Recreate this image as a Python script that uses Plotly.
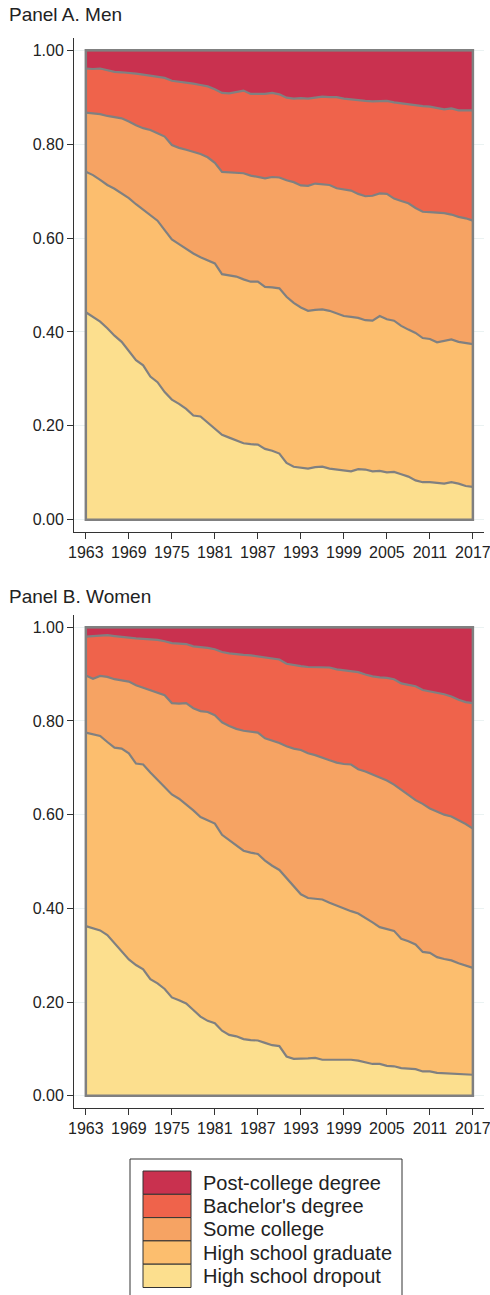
import plotly.graph_objects as go

# share of workers at or below each education level (cumulative), 1963-2017
years = list(range(1963, 2018))
categories = ["High school dropout", "High school graduate", "Some college",
              "Bachelor's degree", "Post-college degree"]

men_dropout = [.442, .432, .422, .408, .392, .379, .360, .340, .329, .305, .293, .272, .256, .247,
               .236, .222, .220, .207, .195, .181, .175, .169, .163, .161, .160, .151, .147, .141,
               .121, .113, .111, .109, .112, .113, .109, .107, .105, .103, .108, .107, .103, .104,
               .101, .102, .097, .092, .084, .080, .080, .078, .077, .080, .077, .072, .070]
men_hsgrad = [.741, .734, .724, .713, .705, .695, .685, .672, .660, .648, .637, .617, .597, .587,
              .576, .567, .559, .553, .546, .523, .521, .518, .512, .507, .507, .496, .495, .493,
              .475, .462, .452, .445, .447, .448, .445, .440, .434, .432, .430, .425, .424, .434,
              .427, .424, .413, .405, .398, .387, .385, .378, .381, .384, .379, .376, .374]
men_somecol = [.867, .865, .864, .860, .857, .855, .848, .840, .834, .830, .823, .816, .798, .792,
               .788, .783, .779, .772, .760, .741, .740, .740, .738, .733, .730, .727, .730, .729,
               .723, .719, .712, .711, .716, .715, .713, .706, .703, .701, .694, .689, .690, .695,
               .694, .684, .679, .674, .664, .656, .655, .654, .653, .650, .645, .642, .637]
men_bach = [.961, .960, .961, .957, .954, .953, .952, .950, .948, .946, .944, .941, .935, .933,
            .932, .929, .926, .923, .917, .909, .908, .911, .914, .907, .907, .907, .909, .906,
            .899, .897, .898, .897, .899, .901, .900, .900, .897, .895, .894, .892, .891, .891,
            .892, .889, .887, .884, .882, .881, .880, .877, .874, .876, .872, .872, .872]

women_dropout = [.362, .357, .353, .343, .326, .310, .291, .279, .270, .249, .240, .228, .210, .204,
                 .197, .183, .169, .160, .155, .139, .130, .127, .121, .119, .118, .113, .108, .106,
                 .084, .079, .079, .080, .081, .077, .077, .077, .077, .077, .075, .071, .068, .068,
                 .064, .063, .059, .058, .057, .052, .052, .049, .048, .048, .047, .045, .045]
women_hsgrad = [.775, .772, .768, .755, .743, .741, .731, .709, .707, .690, .675, .659, .643, .634,
                .622, .609, .595, .588, .581, .557, .545, .533, .523, .519, .516, .502, .491, .482,
                .465, .446, .430, .422, .420, .419, .412, .406, .399, .394, .389, .380, .370, .360,
                .356, .352, .335, .330, .323, .307, .305, .296, .292, .289, .283, .278, .273]
women_somecol = [.897, .890, .896, .894, .889, .887, .884, .876, .871, .866, .860, .855, .838, .837,
                 .838, .827, .821, .819, .812, .797, .789, .783, .779, .777, .775, .763, .758, .753,
                 .746, .741, .738, .731, .727, .721, .716, .711, .708, .707, .697, .692, .686, .679,
                 .673, .664, .652, .642, .631, .623, .613, .606, .600, .596, .588, .580, .570]
women_bach = [.980, .981, .983, .983, .981, .979, .977, .976, .975, .974, .973, .970, .966, .965,
              .964, .959, .958, .956, .953, .947, .944, .942, .941, .940, .938, .936, .933, .931,
              .922, .919, .917, .915, .915, .915, .914, .910, .908, .907, .904, .899, .895, .893,
              .892, .889, .880, .877, .874, .866, .863, .860, .857, .852, .845, .840, .838]
total = [1.0] * len(years)

colors = ["#FCDF8E", "#FCBE6E", "#F6A363", "#EF634B", "#C9314F"]
outline = "#808080"
font_family = "Liberation Sans, Arial, sans-serif"

W, H = 490, 1295


def px(x):
    return x / W


def py(y):
    return 1 - y / H


fig = go.Figure()

panels = [
    ("x", "y", [men_dropout, men_hsgrad, men_somecol, men_bach, total]),
    ("x2", "y2", [women_dropout, women_hsgrad, women_somecol, women_bach, total]),
]
for xa, ya, series in panels:
    for i, (name, vals) in enumerate(zip(categories, series)):
        fig.add_trace(go.Scatter(
            x=years, y=vals, name=name, xaxis=xa, yaxis=ya,
            mode="lines",
            line=dict(color=outline, width=2.2),
            fill="tozeroy" if i == 0 else "tonexty",
            fillcolor=colors[i],
            showlegend=False,
        ))
    # grey frame around the stacked areas
    fig.add_shape(type="rect", xref=xa, yref=ya,
                  x0=years[0], x1=years[-1], y0=0, y1=1,
                  line=dict(color=outline, width=2.5), layer="above")

axis_common = dict(
    showline=True, linecolor="#333333", linewidth=1,
    ticks="outside", ticklen=6, tickcolor="#333333", tickwidth=1,
    zeroline=False, automargin=False,
)
xr = [1961.35, 2018.55]
yr = [-0.026, 1.026]
yticks = [0, 0.2, 0.4, 0.6, 0.8, 1.0]
xticks = list(range(1963, 2018, 6))
tickfont = dict(size=16, color="#222222")

fig.update_layout(
    width=W, height=H,
    margin=dict(l=0, r=0, t=0, b=0),
    paper_bgcolor="white", plot_bgcolor="white",
    font=dict(family=font_family, color="#222222"),
    showlegend=False,
    xaxis=dict(domain=[px(74), px(484)], range=xr, tickvals=xticks, showgrid=False,
               anchor="y", tickfont=tickfont, ticklabeloverflow="allow", **axis_common),
    yaxis=dict(domain=[py(532), py(38)], range=yr, tickvals=yticks, tickformat=".2f",
               showgrid=True, gridcolor="#EAF2F2", gridwidth=1, anchor="x",
               tickfont=tickfont, **axis_common),
    xaxis2=dict(domain=[px(74), px(484)], range=xr, tickvals=xticks, showgrid=False,
                anchor="y2", tickfont=tickfont, ticklabeloverflow="allow", **axis_common),
    yaxis2=dict(domain=[py(1108), py(615)], range=yr, tickvals=yticks, tickformat=".2f",
                showgrid=True, gridcolor="#EAF2F2", gridwidth=1, anchor="x2",
                tickfont=tickfont, **axis_common),
)

# panel titles
for text, ty in [("Panel A. Men", 15), ("Panel B. Women", 596)]:
    fig.add_annotation(text=text, xref="paper", yref="paper", x=px(7), y=py(ty),
                       xanchor="left", yanchor="middle", showarrow=False,
                       font=dict(size=19, color="#222222"))

# legend box drawn by hand (large swatches, stacked)
fig.add_shape(type="rect", xref="paper", yref="paper",
              x0=px(130), x1=px(402), y0=py(1305), y1=py(1159),
              line=dict(color="#333333", width=1), fillcolor="white")
row_h = 23.3
top = 1171
for k, (name, col) in enumerate(zip(categories[::-1], colors[::-1])):
    y0 = top + k * row_h
    fig.add_shape(type="rect", xref="paper", yref="paper",
                  x0=px(143), x1=px(191), y0=py(y0 + row_h), y1=py(y0),
                  line=dict(color="#333333", width=1), fillcolor=col)
    fig.add_annotation(text=name, xref="paper", yref="paper",
                       x=px(201), y=py(y0 + row_h / 2), xanchor="left", yanchor="middle",
                       showarrow=False, font=dict(size=20, color="#222222"))

# drop the default 8px page margin so the figure fills the window exactly
fig.write_html("out.html", config={"displayModeBar": False},
               post_script="document.body.style.margin='0';document.body.style.overflow='hidden';")
